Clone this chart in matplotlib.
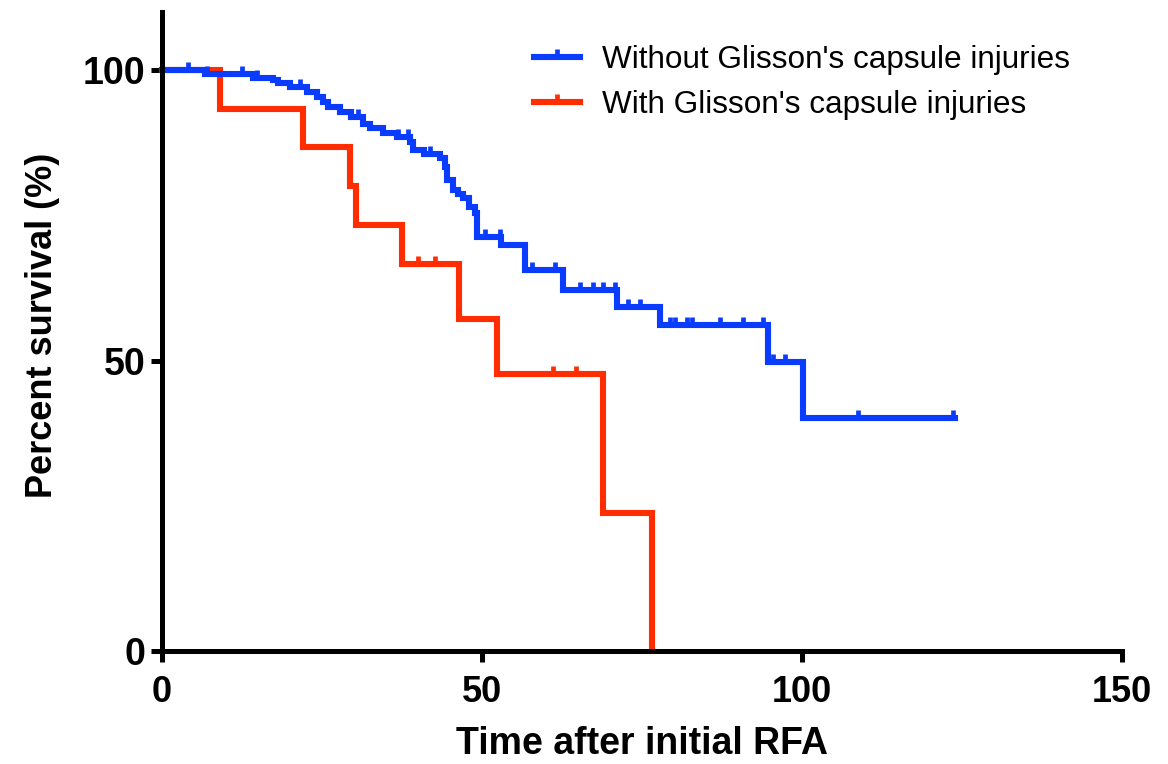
import numpy as np
import matplotlib
matplotlib.use("Agg")
import matplotlib.pyplot as plt
from matplotlib.lines import Line2D

# ====== DATA ======
labels = ["Without Glisson's capsule injuries", "With Glisson's capsule injuries"]

blue_t = [0, 6.7, 14.2, 17.3, 18.1, 20.0, 22.7, 24.2, 25.2, 25.9, 27.8, 29.5, 31.4, 32.5,
          34.5, 36.7, 38.8, 39.2, 41.0, 43.4, 44.2, 44.5, 45.5, 46.3, 47.0, 48.0, 48.9,
          49.2, 53.0, 56.7, 62.7, 71.1, 77.8, 94.7, 100.2, 123.9]
blue_s = [100, 99.4, 98.7, 98.3, 97.8, 97.1, 96.2, 95.4, 94.5, 93.6, 92.7, 91.9, 90.8, 90.0,
          89.2, 88.5, 87.6, 86.2, 85.5, 84.9, 83.3, 81.1, 79.3, 78.6, 78.0, 76.4, 75.4,
          71.2, 69.9, 65.6, 62.1, 59.2, 56.1, 49.7, 40.1, 40.1]
blue_cens = [4.1, 7.0, 12.5, 14.8, 21.6, 27.8, 30.6, 36.9, 38.4, 41.9, 50.5, 52.8, 57.8,
             61.4, 65.3, 67.3, 68.9, 70.8, 72.8, 74.7, 79.4, 80.2, 82.0, 82.8, 87.2, 90.8,
             93.9, 95.5, 97.3, 108.7, 123.6]

red_t = [0, 9.1, 22.0, 29.4, 30.3, 37.5, 46.4, 52.3, 68.9, 76.6]
red_s = [100, 93.3, 86.7, 80.0, 73.3, 66.7, 57.1, 47.6, 23.8, 0]
red_cens = [40.0, 42.6, 61.1, 64.7]

xticks = [0, 50, 100, 150]
yticks = [0, 50, 100]

BLUE = "#0A3CFF"
RED = "#FF2D00"
LW = 4.4

plt.rcParams["font.family"] = ["Liberation Sans", "DejaVu Sans"]


def level_at(times, surv, t):
    idx = np.searchsorted(times, t, side="right") - 1
    return np.asarray(surv)[idx]


fig = plt.figure(figsize=(11.68, 7.64), dpi=100)
ax = fig.add_axes([162 / 1168, 1 - 651 / 764, 960 / 1168, 639 / 764])

for t, s, cens, col in [(red_t, red_s, red_cens, RED), (blue_t, blue_s, blue_cens, BLUE)]:
    ax.step(t, s, where="post", color=col, lw=LW, solid_joinstyle="miter", clip_on=False)
    ax.plot(cens, level_at(t, s, cens), ls="none", marker=2, markersize=6,
            markeredgewidth=3.4, color=col, clip_on=False)

ax.set_xlim(0, 150)
ax.set_ylim(0, 110)
ax.set_xticks(xticks)
ax.set_yticks(yticks)

for side in ["top", "right"]:
    ax.spines[side].set_visible(False)
for side in ["left", "bottom"]:
    ax.spines[side].set_linewidth(3.6)
ax.tick_params(axis="both", length=8, width=3.6, direction="out")
ax.tick_params(axis="y", pad=4)
ax.tick_params(axis="x", pad=9)

for lab in ax.get_yticklabels():
    lab.set_fontsize(27)
    lab.set_fontweight("bold")
for lab in ax.get_xticklabels():
    lab.set_fontsize(26)
    lab.set_fontweight("bold")

ax.set_ylabel("Percent survival (%)", fontsize=26, fontweight="bold")
ax.yaxis.set_label_coords(-0.106, 0.51)
ax.set_xlabel("Time after initial RFA", fontsize=27, fontweight="bold")
ax.xaxis.set_label_coords(0.5, -0.118)

handles = [Line2D([], [], color=BLUE, lw=LW, marker=2, markersize=6, markeredgewidth=3.4),
           Line2D([], [], color=RED, lw=LW, marker=2, markersize=6, markeredgewidth=3.4)]
ax.legend(handles, labels, loc="upper left", bbox_to_anchor=(0.358, 0.992),
          frameon=False, fontsize=22.7, handlelength=1.45, handletextpad=0.7,
          labelspacing=0.45, numpoints=1)

fig.savefig("out.png", dpi=100)
